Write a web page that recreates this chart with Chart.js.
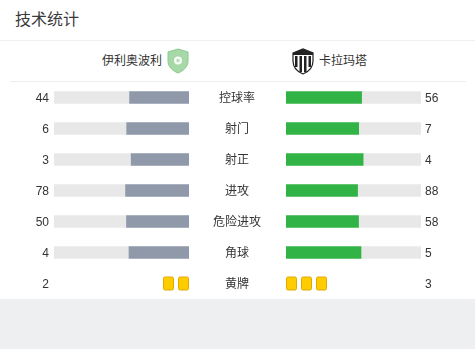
<!DOCTYPE html>
<html>
<head>
<meta charset="utf-8">
<script src="https://cdn.jsdelivr.net/npm/chart.js@4"></script>
<style>
  html, body { margin: 0; padding: 0; }
  body { width: 475px; height: 349px; background: #eeeff1; position: relative; overflow: hidden;
         font-family: "Liberation Sans", "Noto Sans CJK SC", sans-serif; color: #333; }
  #card { position: absolute; left: 0; top: 0; width: 475px; height: 299px; background: #fff; }
  #title { position: absolute; left: 15px; top: 9px; font-size: 16px; line-height: 22px; color: #3a3a3a; }
  #line1 { position: absolute; left: 0; top: 40px; width: 475px; height: 1px; background: #f0f0f0; }
  #line2 { position: absolute; left: 10px; top: 81px; width: 456px; height: 1px; background: #eeeeee; }
  .team { position: absolute; top: 52px; font-size: 12px; line-height: 18px; color: #333; }
  #home { right: 313px; }
  #away { left: 319px; }
  .logo { position: absolute; }
  .wrap { position: absolute; top: 82px; height: 217px; }
</style>
</head>
<body>
<div id="card">
  <div id="title">技术统计</div>
  <div id="line1"></div>
  <div id="home" class="team">伊利奥波利</div>
  <svg class="logo" style="left:166px;top:48px" width="24" height="26" viewBox="0 0 24 26">
    <path d="M12 1 L22 4 L22 13 C22 19 17 23 12 25 C7 23 2 19 2 13 L2 4 Z" fill="#a6d8a8" stroke="#8cc98f" stroke-width="1"/>
    <circle cx="12" cy="12.5" r="4" fill="#ffffff" opacity="0.9"/>
    <circle cx="12" cy="12.5" r="1.8" fill="#b9e0bb"/>
  </svg>
  <div id="away" class="team">卡拉玛塔</div>
  <svg class="logo" style="left:292px;top:48px" width="22" height="27" viewBox="0 0 22 27">
    <path d="M1 5 L11 1 L21 5 L21 13 C21 20 16 24 11 26 C6 24 1 20 1 13 Z" fill="#ffffff" stroke="#222" stroke-width="1.2"/>
    <path d="M1 5 L11 1 L21 5 L21 7 L1 7 Z" fill="#222"/>
    <rect x="3" y="8" width="2.5" height="11" fill="#222"/>
    <rect x="7.5" y="8" width="2.5" height="16" fill="#222"/>
    <rect x="12" y="8" width="2.5" height="16" fill="#222"/>
    <rect x="16.5" y="8" width="2.5" height="11" fill="#222"/>
  </svg>
  <div id="line2"></div>
</div>
<div class="wrap" style="left:0;width:237px"><canvas id="leftChart"></canvas></div>
<div class="wrap" style="left:237px;width:238px"><canvas id="rightChart"></canvas></div>
<script>
const categories = ['控球率', '射门', '射正', '进攻', '危险进攻', '角球', '黄牌'];
const homeValues = [44, 6, 3, 78, 50, 4, 2];
const awayValues = [56, 7, 4, 88, 58, 5, 3];
const cardRow = '黄牌';

const FONT = '12px "Liberation Sans", "Noto Sans CJK SC", sans-serif';

function shares(own, other) {
  return own.map((v, i) => categories[i] === cardRow ? null : v / (v + other[i]));
}
function rest(own, other) {
  return own.map((v, i) => categories[i] === cardRow ? null : 1 - v / (v + other[i]));
}

// numbers, centre labels and yellow cards, placed with the chart's scales
function labelsPlugin(side) {
  return {
    id: 'labels_' + side,
    afterDatasetsDraw(chart) {
      const ctx = chart.ctx;
      const area = chart.chartArea;
      const yScale = chart.scales.y;
      const values = side === 'left' ? homeValues : awayValues;
      ctx.save();
      ctx.font = FONT;
      ctx.textBaseline = 'middle';
      categories.forEach((cat, i) => {
        const y = yScale.getPixelForValue(i);
        ctx.fillStyle = '#333';
        if (side === 'left') {
          ctx.textAlign = 'right';
          ctx.fillText(String(values[i]), area.left - 5, y + 1);
          ctx.textAlign = 'center';
          ctx.fillText(cat, chart.width, y + 1);
        } else {
          ctx.textAlign = 'left';
          ctx.fillText(String(values[i]), area.right + 4, y + 1);
          ctx.textAlign = 'center';
          ctx.fillText(cat, 0, y + 1);
        }
        if (cat === cardRow) {
          for (let k = 0; k < values[i]; k++) {
            const w = 10, h = 13, gap = 5;
            const x = side === 'left' ? area.right - w - k * (w + gap) - 0.5 : area.left + k * (w + gap) + 0.5;
            ctx.beginPath();
            ctx.roundRect(x, y - h / 2, w, h, 1.5);
            ctx.fillStyle = '#ffcc00';
            ctx.fill();
            ctx.strokeStyle = '#e3a900';
            ctx.lineWidth = 1;
            ctx.stroke();
          }
        }
      });
      ctx.restore();
    }
  };
}

function makeChart(id, side) {
  const own = side === 'left' ? homeValues : awayValues;
  const other = side === 'left' ? awayValues : homeValues;
  return new Chart(document.getElementById(id).getContext('2d'), {
    type: 'bar',
    data: {
      labels: categories,
      datasets: [
        { data: shares(own, other), backgroundColor: side === 'left' ? '#8f99aa' : '#31b345', barThickness: 12, borderSkipped: false },
        { data: rest(own, other), backgroundColor: '#e8e8e8', barThickness: 12 }
      ]
    },
    options: {
      indexAxis: 'y',
      responsive: true,
      maintainAspectRatio: false,
      animation: false,
      layout: {
        padding: side === 'left'
          ? { left: 54, right: 48, top: 0, bottom: 0 }
          : { left: 49, right: 54, top: 0, bottom: 0 }
      },
      plugins: { legend: { display: false }, tooltip: { enabled: false } },
      scales: {
        x: { stacked: true, min: 0, max: 1, reverse: side === 'left', display: false },
        y: { stacked: true, display: false }
      }
    },
    plugins: [labelsPlugin(side)]
  });
}

makeChart('leftChart', 'left');
makeChart('rightChart', 'right');
</script>
</body>
</html>
